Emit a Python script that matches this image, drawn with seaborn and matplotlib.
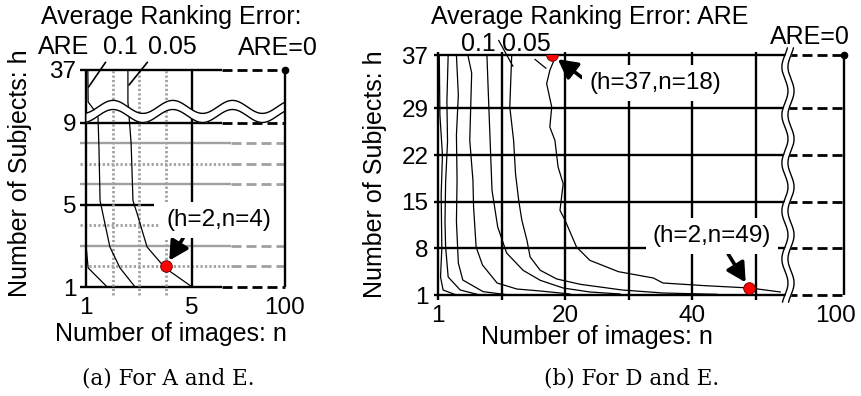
import numpy as np
import matplotlib
matplotlib.use("Agg")
import matplotlib.pyplot as plt
import matplotlib.transforms as mtrans
import seaborn as sns

# ---------------- values ----------------
# (a) For A and E   (n = number of images, h = number of subjects)
a_n_ticks = [1, 5, 100]
a_h_ticks = [1, 5, 9, 37]
a_are20_n = [1.0, 1.08, 1.8]
a_are20_h = [3.05, 1.93, 1.0]
a_are10_n = [1.07, 1.08, 1.45, 1.49, 1.53, 1.9, 2.28, 2.85]
a_are10_h = [37, 20, 13, 7.7, 5.2, 2.95, 1.93, 1.0]
a_are05_n = [2.58, 2.58, 2.62, 2.7, 2.77, 2.92, 3.3, 3.98, 5.0]
a_are05_h = [37, 20, 13, 8, 5.2, 4.6, 2.95, 1.93, 1.0]
a_mark_n = [4]
a_mark_h = [2]

# (b) For D and E
b_n_ticks = [0, 20, 40, 100]
b_n_ticklabels = ["1", "20", "40", "100"]
b_n_grid = [0, 10, 20, 30, 40, 50]
b_h_ticks = [1, 8, 15, 22, 29, 37]
b_c1_n = [0.2, 0.3, 0.7, 0.5, 0.6, 0.4, 0.8, 2.9]
b_c1_h = [37, 28, 22, 16, 8, 3.7, 1.75, 1.0]
b_c2_n = [1.6, 1.4, 1.5, 1.2, 1.1, 1.2, 1.6, 3.5, 6.6]
b_c2_h = [37, 30, 24, 18, 12, 8.2, 3.7, 1.75, 1.0]
b_c3_n = [2.9, 3.2, 2.9, 3.0, 2.9, 3.2, 3.9, 7.1, 11.3]
b_c3_h = [37, 31, 25, 18.2, 12, 5.8, 3.25, 1.5, 1.0]
b_c4_n = [4.7, 5.3, 5.0, 5.5, 5.6, 6.0, 7.0, 9.3, 12.4, 16.1, 20.8]
b_c4_h = [37, 34.3, 24.2, 18.2, 14.2, 8.2, 5.5, 2.8, 1.9, 1.6, 1.15]
b_c5_n = [7.7, 7.9, 8.2, 8.5, 9.4, 10.8, 13.4, 16.1, 19.7, 23.9, 28.7]
b_c5_h = [37, 31.8, 24.2, 16.7, 11.2, 7.3, 4.7, 3.2, 2.05, 1.45, 1.15]
b_are10_n = [11.6, 11.3, 11.9, 12.2, 12.7, 13.2, 14.0, 14.5, 16.1, 18.7, 22.4, 29.0, 35.4, 44.0]
b_are10_h = [37, 29.2, 24.2, 19.2, 15.2, 12.2, 9.2, 6.7, 4.7, 3.4, 2.6, 1.75, 1.3, 1.1]
b_are05_n = [18.6, 17.6, 17.1, 17.9, 17.6, 18.4, 18.9, 19.7, 19.2, 20.0, 21.8, 23.9,
             28.4, 33.9, 35.4, 42.0, 49.1, 53.9]
b_are05_h = [37, 34.7, 32.7, 29.2, 26.2, 24.2, 20.2, 17.7, 13.7, 12.2, 8.2, 6.2,
             4.5, 3.55, 2.8, 2.4, 2.05, 1.45]
b_mark_n = [18, 49]
b_mark_h = [37, 2]

# ---------------- style ----------------
sns.set_style("white")
plt.rcParams["font.family"] = ["Liberation Sans", "DejaVu Sans"]
plt.rcParams["text.color"] = "black"
plt.rcParams["axes.labelcolor"] = "black"
plt.rcParams["xtick.color"] = "black"
plt.rcParams["ytick.color"] = "black"
BLACK = "black"
GREY = "#a0a0a0"
FS = 18
TFS = 17.5
W, H = 862, 396


def px(x, y):
    return (x, H - y)


def a_nf(n):
    n = np.asarray(n, float)
    return np.where(n <= 5, n, 5 + (n - 5) * 3.5 / 95)


def a_ni(v):
    v = np.asarray(v, float)
    return np.where(v <= 5, v, 5 + (v - 5) * 95 / 3.5)


def a_hf(h):
    h = np.asarray(h, float)
    return np.where(h <= 9, h, 9 + (h - 9) * 2.56 / 28)


def a_hi(v):
    v = np.asarray(v, float)
    return np.where(v <= 9, v, 9 + (v - 9) * 28 / 2.56)


def b_nf(n):
    n = np.asarray(n, float)
    return np.where(n <= 55, n, 55 + (n - 55) * 8.9 / 45)


def b_ni(v):
    v = np.asarray(v, float)
    return np.where(v <= 55, v, 55 + (v - 55) * 45 / 8.9)


def seg(ax, x, y, kind, z=2):
    styles = {
        "k": dict(color=BLACK, lw=1.7, ls="-"),
        "kd": dict(color=BLACK, lw=2.0, ls=(0, (3.6, 1.8))),
        "g": dict(color=GREY, lw=1.7, ls="-"),
        "gd": dict(color=GREY, lw=2.0, ls=(0, (3.6, 1.8))),
        "g:": dict(color=GREY, lw=2.0, ls=(0, (0.8, 0.8))),
    }
    ax.plot(x, y, clip_on=False, zorder=z, solid_capstyle="butt",
            dash_capstyle="butt", **styles[kind])


def contour(ax, n, h):
    sns.lineplot(x=n, y=h, sort=False, estimator=None, color=BLACK, lw=0.9,
                 ax=ax, legend=False, zorder=3)


def clean(ax):
    for s in ax.spines.values():
        s.set_visible(False)
    ax.tick_params(length=0, labelsize=TFS, pad=7, colors=BLACK)
    ax.set_xlabel("")
    ax.set_ylabel("")
    ax.grid(False)
    ax.set_facecolor("none")


ARROW = dict(arrowstyle="-|>,head_length=0.65,head_width=0.35",
             color=BLACK, lw=2.6, shrinkA=0, shrinkB=5)

fig = plt.figure(figsize=(W / 100, H / 100), dpi=100)

# ================= panel (a) =================
ax = fig.add_axes([86 / W, 1 - 287 / H, 199 / W, 217 / H])
ax.set_xscale("function", functions=(a_nf, a_ni))
ax.set_yscale("function", functions=(a_hf, a_hi))
ax.set_xlim(1, 100)
ax.set_ylim(1, 37)

for h in [37, 9, 1]:
    seg(ax, [0.77, 36], [h, h], "k")
    seg(ax, [36, 100], [h, h], "kd")
for h in [8, 6, 3]:
    seg(ax, [0.77, 45], [h, h], "g")
    seg(ax, [45, 100], [h, h], "gd")
for h in [7, 2]:
    seg(ax, [0.77, 45], [h, h], "g:")
    seg(ax, [45, 100], [h, h], "gd")
seg(ax, [0.77, 3.55], [5, 5], "k")
seg(ax, [0.77, 3.7], [4, 4], "g:")
for n in [2, 3, 4]:
    seg(ax, [n, n], [0.6, 37], "g:")
seg(ax, [1, 1], [1, 37], "k")
seg(ax, [5, 5], [1, 37], "k")
seg(ax, [100, 100], [1, 37], "k", z=8)

contour(ax, a_are20_n, a_are20_h)
contour(ax, a_are10_n, a_are10_h)
contour(ax, a_are05_n, a_are05_h)

# horizontal break mark
xs = np.linspace(0, 1, 400)
yc = 0.809 + 0.03 * np.sin(2 * np.pi * (xs - 0.136) / 0.30 + np.pi / 2)
ax.fill_between(xs, yc - 0.021, yc + 0.021, color="white", lw=0,
                transform=ax.transAxes, zorder=5)
ax.plot(xs, yc + 0.021, color=BLACK, lw=1.0, transform=ax.transAxes, zorder=6)
ax.plot(xs, yc - 0.021, color=BLACK, lw=1.0, transform=ax.transAxes, zorder=6)

sns.scatterplot(x=a_mark_n, y=a_mark_h, color="red", edgecolor="#600000",
                linewidth=0.6, s=70, ax=ax, zorder=9, legend=False)
ax.plot([a_n_ticks[-1]], [a_h_ticks[-1]], "o", color=BLACK, ms=4.5,
        clip_on=False, zorder=9)

ax.set_xticks(a_n_ticks)
ax.set_xticklabels([str(v) for v in a_n_ticks])
ax.set_yticks(a_h_ticks)
ax.set_yticklabels([str(v) for v in a_h_ticks])
clean(ax)

ax.annotate("(h=2,n=4)", xy=(a_mark_n[0], a_mark_h[0]), xycoords="data",
            xytext=px(219, 220), textcoords="figure pixels",
            ha="center", va="center", fontsize=TFS, zorder=7,
            bbox=dict(boxstyle="square,pad=0.3", fc="white", ec="none"),
            arrowprops=dict(relpos=(0.2, 0.0), **ARROW))
ax.annotate("0.1", xy=(1.1, 28), xycoords="data", xytext=px(120, 47),
            textcoords="figure pixels", ha="center", va="center", fontsize=FS,
            arrowprops=dict(arrowstyle="-", color=BLACK, lw=1.2, shrinkA=0,
                            shrinkB=0, relpos=(0.15, 0.0)))
ax.annotate("0.05", xy=(2.62, 29), xycoords="data", xytext=px(172, 47),
            textcoords="figure pixels", ha="center", va="center", fontsize=FS,
            arrowprops=dict(arrowstyle="-", color=BLACK, lw=1.2, shrinkA=0,
                            shrinkB=0, relpos=(0.05, 0.0)))

fig.text(171 / W, 1 - 17 / H, "Average Ranking Error:", ha="center",
         va="center", fontsize=FS)
fig.text(64 / W, 1 - 47 / H, "ARE", ha="center", va="center", fontsize=FS)
fig.text(278 / W, 1 - 48 / H, "ARE=0", ha="center", va="center", fontsize=FS)
fig.text(171 / W, 1 - 334 / H, "Number of images: n", ha="center",
         va="center", fontsize=FS)
fig.text(20 / W, 1 - 173 / H, "Number of Subjects: h", ha="center",
         va="center", fontsize=FS, rotation=90)

# ================= panel (b) =================
bx = fig.add_axes([438 / W, 1 - 295 / H, 406 / W, 240 / H])
bx.set_xscale("function", functions=(b_nf, b_ni))
bx.set_xlim(0, 100)
bx.set_ylim(1, 37)

for h in b_h_ticks:
    seg(bx, [-0.6, 55], [h, h], "k")
    seg(bx, [55, 100], [h, h], "kd")
for n in b_n_grid:
    seg(bx, [n, n], [0.3, 37.4], "k")
seg(bx, [100, 100], [1, 37], "k", z=8)

for n_, h_ in [(b_c1_n, b_c1_h), (b_c2_n, b_c2_h), (b_c3_n, b_c3_h),
               (b_c4_n, b_c4_h), (b_c5_n, b_c5_h), (b_are10_n, b_are10_h),
               (b_are05_n, b_are05_h)]:
    contour(bx, n_, h_)

# vertical break mark
ys = np.linspace(-0.03, 1.03, 400)
xc = 0.862 + 0.0075 * np.sin(2 * np.pi * ys / 0.2)
bx.fill_betweenx(ys, xc - 0.0075, xc + 0.0075, color="white", lw=0,
                 transform=bx.transAxes, zorder=5, clip_on=False)
bx.plot(xc - 0.0075, ys, color=BLACK, lw=1.0, transform=bx.transAxes,
        zorder=6, clip_on=False)
bx.plot(xc + 0.0075, ys, color=BLACK, lw=1.0, transform=bx.transAxes,
        zorder=6, clip_on=False)

sns.scatterplot(x=b_mark_n, y=b_mark_h, color="red", edgecolor="#600000",
                linewidth=0.6, s=70, ax=bx, zorder=9, legend=False)
bx.plot([b_n_ticks[-1]], [b_h_ticks[-1]], "o", color=BLACK, ms=4.5,
        clip_on=False, zorder=9)

bx.set_xticks(b_n_ticks)
bx.set_xticklabels(b_n_ticklabels)
bx.set_yticks(b_h_ticks)
bx.set_yticklabels([str(v) for v in b_h_ticks])
clean(bx)
last = bx.get_xticklabels()[-1]
last.set_horizontalalignment("right")
last.set_transform(last.get_transform() +
                   mtrans.ScaledTranslation(12 / 100, 0, fig.dpi_scale_trans))

bx.annotate("(h=37,n=18)", xy=(b_mark_n[0], b_mark_h[0]), xycoords="data",
            xytext=px(655, 83), textcoords="figure pixels",
            ha="center", va="center", fontsize=TFS, zorder=7,
            bbox=dict(boxstyle="square,pad=0.3", fc="white", ec="none"),
            arrowprops=dict(relpos=(0.0, 0.5), **ARROW))
bx.annotate("(h=2,n=49)", xy=(b_mark_n[1], b_mark_h[1]), xycoords="data",
            xytext=px(712, 236), textcoords="figure pixels",
            ha="center", va="center", fontsize=TFS, zorder=7,
            bbox=dict(boxstyle="square,pad=0.3", fc="white", ec="none"),
            arrowprops=dict(relpos=(0.6, 0.0), **ARROW))
bx.annotate("0.1", xy=(11.8, 35.3), xycoords="data", xytext=px(478, 44),
            textcoords="figure pixels", ha="center", va="center", fontsize=FS,
            arrowprops=dict(arrowstyle="-", color=BLACK, lw=0.9, shrinkA=0,
                            shrinkB=0, relpos=(1.0, 0.9)))
bx.annotate("0.05", xy=(17.0, 35.0), xycoords="data", xytext=px(526, 44),
            textcoords="figure pixels", ha="center", va="center", fontsize=FS,
            arrowprops=dict(arrowstyle="-", color=BLACK, lw=0.9, shrinkA=0,
                            shrinkB=0, relpos=(0.6, 0.0)))

fig.text(590 / W, 1 - 17 / H, "Average Ranking Error: ARE", ha="center",
         va="center", fontsize=FS)
fig.text(810 / W, 1 - 37 / H, "ARE=0", ha="center", va="center", fontsize=FS)
fig.text(597 / W, 1 - 337 / H, "Number of images: n", ha="center",
         va="center", fontsize=FS)
fig.text(375 / W, 1 - 174 / H, "Number of Subjects: h", ha="center",
         va="center", fontsize=FS, rotation=90)

# captions
fig.text(168 / W, 1 - 378 / H, "(a) For A and E.", ha="center", va="center",
         fontsize=15.5, family="DejaVu Serif")
fig.text(632 / W, 1 - 378 / H, "(b) For D and E.", ha="center", va="center",
         fontsize=15.5, family="DejaVu Serif")

fig.savefig("out.png", dpi=100, facecolor="white")
